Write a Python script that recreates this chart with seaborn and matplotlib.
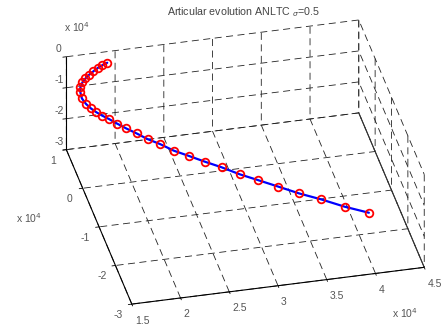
import numpy as np
import matplotlib
matplotlib.use("Agg")
import matplotlib.pyplot as plt
import seaborn as sns

# Joint trajectory (units of 1e4), one entry per sample
q1 = [1.881, 1.834, 1.794, 1.747, 1.701, 1.664, 1.630, 1.601, 1.592, 1.594,
      1.623, 1.665, 1.711, 1.767, 1.833, 1.904, 1.985, 2.078, 2.174, 2.288,
      2.405, 2.542, 2.687, 2.837, 2.997, 3.161, 3.346, 3.531, 3.734, 3.945, 4.167]
q2 = [0.771, 0.796, 0.817, 0.816, 0.814, 0.808, 0.790, 0.743, 0.691, 0.609,
      0.532, 0.476, 0.444, 0.410, 0.372, 0.307, 0.231, 0.146, 0.042, -0.050,
      -0.181, -0.286, -0.408, -0.524, -0.682, -0.808, -0.963, -1.122, -1.267, -1.449, -1.601]
q3 = [-0.060, -0.153, -0.246, -0.339, -0.432, -0.525, -0.618, -0.711, -0.804, -0.897,
      -0.990, -1.083, -1.176, -1.269, -1.362, -1.455, -1.548, -1.641, -1.734, -1.827,
      -1.920, -2.013, -2.106, -2.199, -2.292, -2.385, -2.478, -2.571, -2.664, -2.757, -2.850]

x_ticks = [1.5, 2, 2.5, 3, 3.5, 4, 4.5]
x_labels = ["1.5", "2", "2.5", "3", "3.5", "4", "4.5"]
y_ticks = [-3, -2, -1, 0, 1]
y_labels = ["-3", "-2", "-1", "0", "1"]
z_ticks = [-3, -2, -1, 0]
z_labels = ["-3", "-2", "-1", "0"]

sns.set_theme(style="white")
plt.rcParams["font.family"] = ["Liberation Sans", "DejaVu Sans"]
plt.rcParams["grid.color"] = "#222222"
plt.rcParams["grid.linestyle"] = (0, (8.4, 5.4))
plt.rcParams["grid.linewidth"] = 0.6
plt.rcParams["axes.edgecolor"] = "black"

fig = plt.figure(figsize=(4.43, 3.35), dpi=100)
fig.patch.set_facecolor("white")
# square panel, the 3D box is scaled up inside it
ax = fig.add_axes([0.185, 0.0285, 0.718, 0.95], projection="3d")
ax.set_proj_type("ortho")
ax.view_init(elev=33, azim=-103)
ax.set_box_aspect((298, 289, 110), zoom=1.32)

traj, = ax.plot(q1, q2, q3, color="#0000ff", lw=1.6, zorder=3)
marks, = ax.plot(q1, q2, q3, ls="none", marker="o", ms=5.5, mfc="none",
                 mec="#ff0000", mew=1.3, zorder=4)
traj.set_clip_on(False)
marks.set_clip_on(False)

ax.set_xlim(x_ticks[0], x_ticks[-1])
ax.set_ylim(y_ticks[0], y_ticks[-1])
ax.set_zlim(z_ticks[0], z_ticks[-1])
ax.set_xticks(x_ticks)
ax.set_xticklabels(x_labels, ha="left")
ax.set_yticks(y_ticks)
ax.set_yticklabels(y_labels)
ax.set_zticks(z_ticks)
ax.set_zticklabels(z_labels, va="bottom")

# solid right-hand floor edge of the box
xr = ax.get_xlim()[1]
zb = ax.get_zlim()[0]
edge, = ax.plot([xr, xr], list(ax.get_ylim()), [zb, zb], color="#333333", lw=0.8, zorder=1)
edge.set_clip_on(False)

for axis, pad in ((ax.xaxis, -2.5), (ax.yaxis, -2.5), (ax.zaxis, -5.5)):
    axis.set_pane_color((1, 1, 1, 0))
    axis.pane.set_edgecolor("none")
    axis.line.set_color("black")
    axis.line.set_linewidth(0.8)
    axis._axinfo["tick"]["inward_factor"] = 0.15
    axis._axinfo["tick"]["outward_factor"] = 0.0
    axis._axinfo["tick"]["linewidth"] = {True: 0.6, False: 0.4}
    axis.set_tick_params(labelsize=7.5, labelcolor="#555555", colors="black", pad=pad)
ax.grid(True)

fig.text(0.549, 0.985, r"Articular evolution ANLTC ${}_{\sigma}$=0.5", ha="center", va="top",
         fontsize=7.7, color="#444444")
fig.text(0.145, 0.905, r"x 10$^4$", fontsize=7.5, color="#555555")
fig.text(0.035, 0.333, r"x 10$^4$", fontsize=7.5, color="#555555")
fig.text(0.885, 0.05, r"x 10$^4$", fontsize=7.5, color="#555555")

fig.savefig("out.png", dpi=100, facecolor="white")
